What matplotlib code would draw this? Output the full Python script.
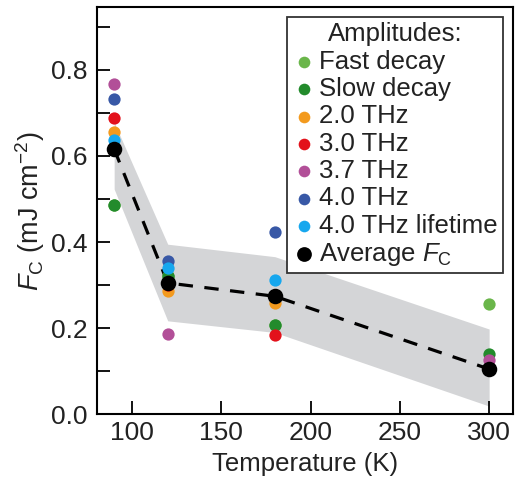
import numpy as np
import matplotlib
matplotlib.use("Agg")
from matplotlib import pyplot as plt

plt.rcParams['font.family'] = ['Liberation Sans', 'DejaVu Sans']
plt.rcParams['mathtext.fontset'] = 'custom'
plt.rcParams['mathtext.rm'] = 'Liberation Sans'
plt.rcParams['mathtext.it'] = 'Liberation Sans:italic'

# temperaturas (K)
temps = [90, 120, 180, 300]

# amplitudes de cada serie
fast_decay = [0.487, 0.322, 0.207, 0.256]
slow_decay = [0.487, 0.322, 0.207, 0.140]
thz_20 = [0.655, 0.287, 0.258, 0.105]
thz_30 = [0.688, 0.300, 0.184, 0.105]
thz_37 = [0.767, 0.186, 0.274, 0.126]
thz_40 = [0.733, 0.357, 0.424, 0.105]
thz_40_life = [0.636, 0.340, 0.312, 0.105]
promedio = [0.616, 0.305, 0.274, 0.105]

# banda de incertidumbre
banda_sup = [0.678, 0.395, 0.366, 0.198]
banda_inf = [0.523, 0.217, 0.190, 0.019]

series = [
    ("Fast decay", fast_decay, "#6ab64a"),
    ("Slow decay", slow_decay, "#238b2c"),
    ("2.0 THz", thz_20, "#f39a1e"),
    ("3.0 THz", thz_30, "#e3111b"),
    ("3.7 THz", thz_37, "#b24f98"),
    ("4.0 THz", thz_40, "#3858a6"),
    ("4.0 THz lifetime", thz_40_life, "#16a7ee"),
]

texto = "#222222"

fig = plt.figure(figsize=(5.23, 4.92), dpi=100)
ax = fig.add_axes([0.1855, 0.158, 0.7955, 0.827])

ax.fill_between(temps, banda_inf, banda_sup, color="#d4d5d7", lw=0, zorder=1)
ax.plot(temps, promedio, color="black", lw=2.3, dashes=(4.5, 3.6), zorder=2)

for nombre, valores, color in series:
    ax.scatter(temps, valores, s=78, color=color, label=nombre, lw=0, zorder=3)
ax.scatter(temps, promedio, s=125, color="black", label="Average $F_\\mathrm{C}$", lw=0, zorder=4)

ax.set_xlim(80.4, 313.4)
ax.set_ylim(0, 0.945)
ax.set_xticks([100, 150, 200, 250, 300])
ax.set_yticks([0.0, 0.2, 0.4, 0.6, 0.8])
ax.set_yticks([0.1, 0.3, 0.5, 0.7, 0.9], minor=True)
ax.tick_params(direction="in", length=9.5, width=1.3, labelsize=19, pad=5,
               labelcolor=texto)
ax.tick_params(which="minor", direction="in", length=9.5, width=1.3)
ax.tick_params(axis="y", pad=7)
for s in ax.spines.values():
    s.set_linewidth(1.5)

ax.set_xlabel("Temperature (K)", fontsize=18.5, labelpad=5, color=texto)
ax.set_ylabel("$F_\\mathrm{C}$ (mJ cm$^{-2}$)", fontsize=19.5, labelpad=3, color=texto)

leg = ax.legend(title="Amplitudes:", loc="upper right", bbox_to_anchor=(0.976, 0.976),
                borderaxespad=0, fontsize=18.5, title_fontsize=18.5, handletextpad=0.15,
                labelspacing=0.13, handlelength=0.9, markerscale=0.95, borderpad=0.2,
                fancybox=False, edgecolor="#333333", framealpha=1)
leg.get_frame().set_linewidth(1.3)
for t in leg.get_texts():
    t.set_color(texto)
leg.get_title().set_color(texto)

fig.savefig("out.png", dpi=100)
